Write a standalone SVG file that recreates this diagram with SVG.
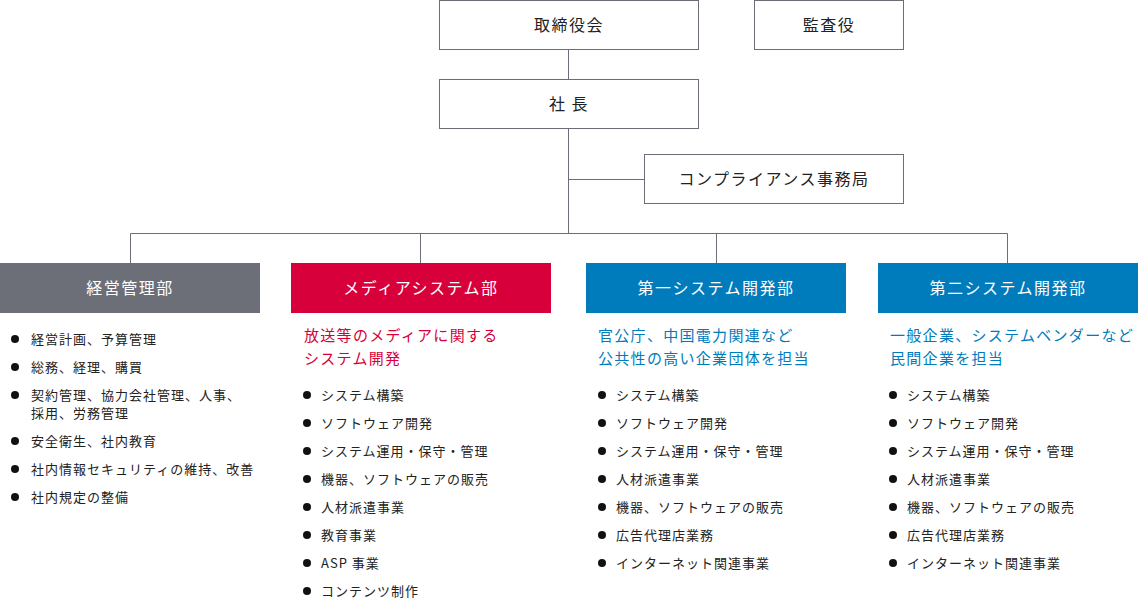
<svg xmlns="http://www.w3.org/2000/svg" width="1138" height="601" viewBox="0 0 1138 601">
<style>
text{font-family:"Noto Sans CJK JP","Noto Sans",sans-serif;}
.box{fill:#fff;stroke:#6b6e77;stroke-width:1;}
.bt{font-size:16px;fill:#222;text-anchor:middle;letter-spacing:1.5px;}
.hd{font-size:16px;fill:#fff;text-anchor:middle;letter-spacing:1.5px;}
.ds{font-size:15px;letter-spacing:1.3px;}
.li{font-size:13px;fill:#222;letter-spacing:1px;}
.dot{fill:#111;}
.ln{stroke:#6b6e77;stroke-width:1;fill:none;}
</style>
<g id="connectors">
<path class="ln" d="M568.5 49.5V233.5M568.5 179.5H644M130.5 233.5H1007.5M130.5 233.5V263M420.5 233.5V263M716.5 233.5V263M1007.5 233.5V263"/>
</g>
<g id="board"><rect class="box" x="439.5" y="0.5" width="259" height="49"/><text class="bt" x="569" y="31">取締役会</text></g>
<g id="auditor"><rect class="box" x="754.5" y="0.5" width="149" height="49"/><text class="bt" x="829" y="31">監査役</text></g>
<g id="president"><rect class="box" x="439.5" y="79.5" width="259" height="49"/><text class="bt" x="569" y="110">社 長</text></g>
<g id="compliance"><rect class="box" x="644.5" y="154.5" width="259" height="49"/><text class="bt" x="774" y="185">コンプライアンス事務局</text></g>

<g id="dept-management">
<rect x="0" y="263" width="260" height="50" fill="#6c6f78"/>
<text class="hd" x="130" y="294">経営管理部</text>
<g class="li">
<circle class="dot" cx="15" cy="339" r="4"/><text x="31" y="344">経営計画、予算管理</text>
<circle class="dot" cx="15" cy="367" r="4"/><text x="31" y="372">総務、経理、購買</text>
<circle class="dot" cx="15" cy="395" r="4"/><text x="31" y="400">契約管理、協力会社管理、人事、</text><text x="31" y="418">採用、労務管理</text>
<circle class="dot" cx="15" cy="441" r="4"/><text x="31" y="446">安全衛生、社内教育</text>
<circle class="dot" cx="15" cy="469" r="4"/><text x="31" y="474">社内情報セキュリティの維持、改善</text>
<circle class="dot" cx="15" cy="497" r="4"/><text x="31" y="502">社内規定の整備</text>
</g>
</g>

<g id="dept-media">
<rect x="291" y="263" width="260" height="50" fill="#d7003a"/>
<text class="hd" x="421" y="294">メディアシステム部</text>
<text class="ds" x="304" y="341" fill="#d7003a">放送等のメディアに関する</text>
<text class="ds" x="304" y="364" fill="#d7003a">システム開発</text>
<g class="li">
<circle class="dot" cx="307" cy="395" r="4"/><text x="321" y="400">システム構築</text>
<circle class="dot" cx="307" cy="423" r="4"/><text x="321" y="428">ソフトウェア開発</text>
<circle class="dot" cx="307" cy="451" r="4"/><text x="321" y="456">システム運用・保守・管理</text>
<circle class="dot" cx="307" cy="479" r="4"/><text x="321" y="484">機器、ソフトウェアの販売</text>
<circle class="dot" cx="307" cy="507" r="4"/><text x="321" y="512">人材派遣事業</text>
<circle class="dot" cx="307" cy="535" r="4"/><text x="321" y="540">教育事業</text>
<circle class="dot" cx="307" cy="563" r="4"/><text x="321" y="568">ASP 事業</text>
<circle class="dot" cx="307" cy="591" r="4"/><text x="321" y="596">コンテンツ制作</text>
</g>
</g>

<g id="dept-sys1">
<rect x="586" y="263" width="260" height="50" fill="#007bbb"/>
<text class="hd" x="716" y="294">第一システム開発部</text>
<text class="ds" x="598" y="341" fill="#007bbb">官公庁、中国電力関連など</text>
<text class="ds" x="598" y="364" fill="#007bbb">公共性の高い企業団体を担当</text>
<g class="li">
<circle class="dot" cx="602" cy="395" r="4"/><text x="616" y="400">システム構築</text>
<circle class="dot" cx="602" cy="423" r="4"/><text x="616" y="428">ソフトウェア開発</text>
<circle class="dot" cx="602" cy="451" r="4"/><text x="616" y="456">システム運用・保守・管理</text>
<circle class="dot" cx="602" cy="479" r="4"/><text x="616" y="484">人材派遣事業</text>
<circle class="dot" cx="602" cy="507" r="4"/><text x="616" y="512">機器、ソフトウェアの販売</text>
<circle class="dot" cx="602" cy="535" r="4"/><text x="616" y="540">広告代理店業務</text>
<circle class="dot" cx="602" cy="563" r="4"/><text x="616" y="568">インターネット関連事業</text>
</g>
</g>

<g id="dept-sys2">
<rect x="878" y="263" width="260" height="50" fill="#007bbb"/>
<text class="hd" x="1008" y="294">第二システム開発部</text>
<text class="ds" x="890" y="341" fill="#007bbb">一般企業、システムベンダーなど</text>
<text class="ds" x="890" y="364" fill="#007bbb">民間企業を担当</text>
<g class="li">
<circle class="dot" cx="893" cy="395" r="4"/><text x="907" y="400">システム構築</text>
<circle class="dot" cx="893" cy="423" r="4"/><text x="907" y="428">ソフトウェア開発</text>
<circle class="dot" cx="893" cy="451" r="4"/><text x="907" y="456">システム運用・保守・管理</text>
<circle class="dot" cx="893" cy="479" r="4"/><text x="907" y="484">人材派遣事業</text>
<circle class="dot" cx="893" cy="507" r="4"/><text x="907" y="512">機器、ソフトウェアの販売</text>
<circle class="dot" cx="893" cy="535" r="4"/><text x="907" y="540">広告代理店業務</text>
<circle class="dot" cx="893" cy="563" r="4"/><text x="907" y="568">インターネット関連事業</text>
</g>
</g>
</svg>
